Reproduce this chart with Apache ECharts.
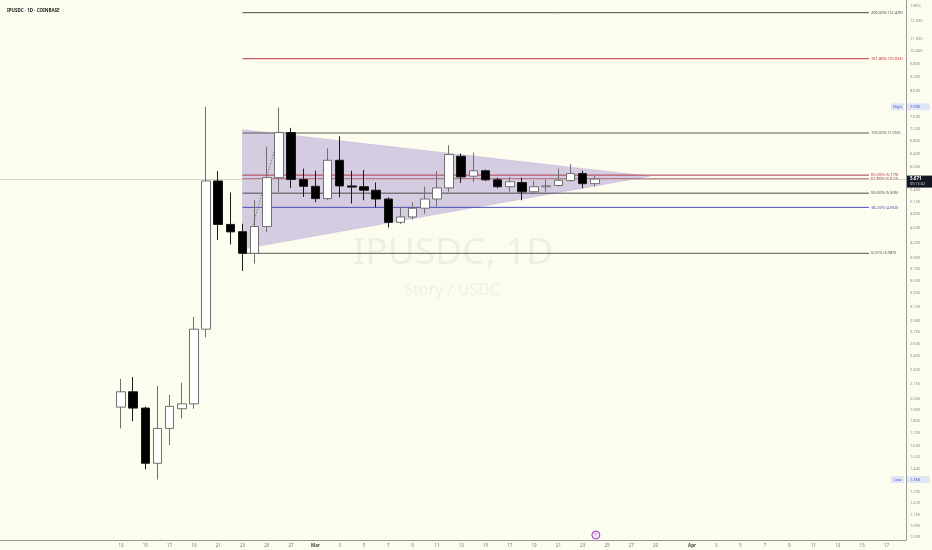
<!DOCTYPE html>
<html><head><meta charset="utf-8">
<script src="https://cdn.jsdelivr.net/npm/echarts@6/dist/echarts.min.js"></script>
<style>html,body{margin:0;padding:0;background:#fdfdef}#c{width:932px;height:550px}</style>
</head><body><div id="c"></div>
<script>
// ---------- data ----------
const dates = ['2025-02-13','2025-02-14','2025-02-15','2025-02-16','2025-02-17','2025-02-18','2025-02-19','2025-02-20','2025-02-21','2025-02-22',
  '2025-02-23','2025-02-24','2025-02-25','2025-02-26','2025-02-27','2025-02-28','2025-03-01','2025-03-02','2025-03-03','2025-03-04',
  '2025-03-05','2025-03-06','2025-03-07','2025-03-08','2025-03-09','2025-03-10','2025-03-11','2025-03-12','2025-03-13','2025-03-14',
  '2025-03-15','2025-03-16','2025-03-17','2025-03-18','2025-03-19','2025-03-20','2025-03-21','2025-03-22','2025-03-23','2025-03-24'];
const opens  = [1.925,2.07,1.916,1.475,1.74,1.91,1.955,2.785,5.62,4.575, 4.42,3.99,4.53,5.71,7.07,5.66,5.48,5.17,6.20,5.49, 5.47,5.38,5.16,4.62,4.74,4.94,5.16,5.44,6.32,5.75, 5.90,5.65,5.47,5.58,5.34,5.47,5.50,5.63,5.82,5.55];
const closes = [2.07,1.916,1.475,1.74,1.932,1.955,2.785,5.62,4.575,4.416, 3.99,4.53,5.71,7.07,5.66,5.48,5.17,6.20,5.49,5.46, 5.38,5.16,4.62,4.74,4.94,5.16,5.44,6.37,5.73,5.90, 5.65,5.47,5.60,5.34,5.47,5.49,5.64,5.82,5.55,5.671];
const lows   = [1.74,1.80,1.433,1.366,1.608,1.824,1.91,2.68,4.25,4.16, 3.67,3.80,4.416,5.34,5.44,5.21,5.08,5.13,5.20,5.05, 5.13,4.96,4.51,4.58,4.68,4.81,4.98,5.34,5.57,5.59, 5.62,5.43,5.34,5.13,5.29,5.34,5.47,5.60,5.43,5.47];
const highs  = [2.20,2.22,1.93,2.127,2.04,2.16,2.95,7.99,5.89,5.32, 4.59,5.13,6.61,7.96,7.23,5.96,5.90,6.56,6.95,5.90, 5.92,5.58,5.20,4.97,5.08,5.47,5.89,6.66,6.40,6.43, 5.93,5.71,5.73,5.71,5.63,5.66,5.96,6.09,5.90,5.76];

const xTickDates = ['2025-02-13','2025-02-15','2025-02-17','2025-02-19','2025-02-21','2025-02-23','2025-02-25','2025-02-27',
  '2025-03-01','2025-03-03','2025-03-05','2025-03-07','2025-03-09','2025-03-11','2025-03-13','2025-03-15','2025-03-17','2025-03-19',
  '2025-03-21','2025-03-23','2025-03-25','2025-03-27','2025-03-29','2025-04-01','2025-04-03','2025-04-05','2025-04-07','2025-04-09',
  '2025-04-11','2025-04-13','2025-04-15','2025-04-17'];
const xTickLabels = ['13','15','17','19','21','23','25','27','Mar','3','5','7','9','11','13','15','17','19',
  '21','23','25','27','29','Apr','3','5','7','9','11','13','15','17'];
const yTickValues = [12,11,10.4,9.8,9.2,8.6,7.6,7.2,6.8,6.4,6.0,5.4,5.1,4.8,4.5,4.2,3.9,3.7,3.5,3.3,3.1,2.9,2.75,2.6,2.45,2.3,2.15,
  2.0,1.9,1.8,1.7,1.6,1.52,1.44,1.29,1.22,1.155,1.095,1.039];

const fibPercents = ['200.00%','161.80%','100.00%','65.00%','61.80%','50.00%','38.20%','0.00%'];
const fibPrices   = [12.476,10.033,7.055,5.779,5.674,5.305,4.960,3.989];
const fibStart = '2025-02-23';
const fibEnd = '2025-04-15 13:30';

const triangleDates  = ['2025-02-23','2025-03-28 13:00','2025-02-23'];
const trianglePrices = [7.17,5.75,4.07];

const dottedDates  = ['2025-02-23 19:00','2025-02-25 18:00'];
const dottedPrices = [4.50,6.66];

const lastPrice = 5.671;
const highPrice = 7.990;
const lowPrice = 1.366;
const eventDate = '2025-03-24';

// ---------- styles ----------
const fibColors = ['#4a4a4a','#c0343d','#5a5a5a','#b03a48','#a0304e','#4a4a4a','#4c4cc0','#5a5a5a'];
const FONT = 'Noto Sans';
const DAY = 86400000;
function pd(s){
  const m = s.match(/^(\d+)-(\d+)-(\d+)(?: (\d+):(\d+))?$/);
  return new Date(+m[1], +m[2]-1, +m[3], m[4]?+m[4]:0, m[5]?+m[5]:0).getTime();
}
const t0 = pd('2025-02-13');

const chart = echarts.init(document.getElementById('c'), null, {renderer:'canvas'});

const series = [];
series.push({
  type:'custom', name:'triangle', z:1, silent:true,
  data: triangleDates.map((d,i)=>[pd(d), trianglePrices[i]]),
  encode:{x:0,y:1},
  renderItem:function(params, api){
    if (params.dataIndex !== 0) return null;
    const pts = triangleDates.map((d,i)=>api.coord([pd(d), trianglePrices[i]]));
    return {type:'polygon', shape:{points:pts}, style:{fill:'rgba(135,105,200,0.33)', stroke:'rgba(135,105,200,0.35)', lineWidth:0.5}};
  }
});
fibPrices.forEach((p,i)=>{
  series.push({
    type:'line', z:3, symbol:'none', silent:true,
    data:[[pd(fibStart),p],[pd(fibEnd),p]],
    lineStyle:{color:fibColors[i], width:1},
    endLabel:{show:true, distance:2, formatter: fibPercents[i]+' ('+p.toFixed(3)+')', color:fibColors[i], fontSize:4, fontFamily:FONT}
  });
});
series.push({
  type:'line', z:4, symbol:'none', silent:true,
  data: dottedDates.map((d,i)=>[pd(d), dottedPrices[i]]),
  lineStyle:{color:'#777', width:1, type:[1.5,1.5]}
});
series.push({
  type:'candlestick', z:5, barWidth:9,
  data: dates.map((d,i)=>[pd(d), opens[i], closes[i], lows[i], highs[i]]),
  encode:{x:0, y:[1,2,3,4]},
  itemStyle:{color:'#ffffff', color0:'#000000', borderColor:'#6f6f6f', borderColor0:'#1a1a1a', borderWidth:1},
  markLine:{
    symbol:['none','none'], silent:true,
    label:{show:false},
    lineStyle:{color:'#c9c9bf', width:0.8, type:'solid'},
    data:[{yAxis:lastPrice}]
  }
});

const option = {
  backgroundColor:'#fdfdef',
  animation:false,
  title:{text:'IPUSDC · 1D · COINBASE', left:2, top:3, textStyle:{fontSize:4.5, fontWeight:'bold', color:'#222', fontFamily:FONT}},
  grid:{left:0, right:26, top:0, bottom:10, containLabel:false},
  xAxis:{
    type:'time',
    min: t0 - 9.96*DAY, max: t0 + 64.61*DAY,
    axisLine:{show:true, lineStyle:{color:'#9a9a9a', width:1}},
    axisTick:{show:false},
    splitLine:{show:false},
    axisLabel:{show:false}
  },
  yAxis:{
    type:'log', position:'right',
    min:1.0255, max:13.25,
    axisLine:{show:true, lineStyle:{color:'#9a9a9a', width:1}},
    axisTick:{show:false},
    axisLabel:{show:false},
    splitLine:{show:false}
  },
  series: series
};
chart.setOption(option);

const g = [];
g.push({type:'text', z:-10, x:453, y:253, style:{text:'IPUSDC, 1D', fontSize:37, fontFamily:FONT, fill:'rgba(0,0,0,0.055)', align:'center', verticalAlign:'middle'}});
g.push({type:'text', z:-10, x:452, y:290, style:{text:'Story / USDC', fontSize:16, fontFamily:FONT, fill:'rgba(0,0,0,0.055)', align:'center', verticalAlign:'middle'}});
g.push({type:'text', z:50, x:911, y:6, style:{text:'USDC', fontSize:4, fontFamily:FONT, fill:'#8a8a8a', align:'left', verticalAlign:'middle'}});
yTickValues.forEach(v=>{
  const y = chart.convertToPixel({yAxisIndex:0}, v);
  g.push({type:'text', z:50, x:910, y:y, style:{text:v.toFixed(3), fontSize:4, fontFamily:FONT, fill:'#8a8a8a', align:'left', verticalAlign:'middle'}});
});
xTickDates.forEach((d,i)=>{
  const x = chart.convertToPixel({xAxisIndex:0}, pd(d));
  const bold = isNaN(+xTickLabels[i]);
  g.push({type:'text', z:50, x:x, y:545.5, style:{text:xTickLabels[i], fontSize:4.5, fontWeight: bold?'bold':'normal', fontFamily:FONT, fill: bold?'#444':'#777', align:'center', verticalAlign:'middle'}});
});
function badge(label, value){
  const y = chart.convertToPixel({yAxisIndex:0}, value);
  g.push({type:'rect', z:60, shape:{x:891, y:y-3.5, width:13, height:7}, style:{fill:'#e1e6f6'}});
  g.push({type:'text', z:61, x:897.5, y:y, style:{text:label, fontSize:4, fontFamily:FONT, fill:'#3d5ccc', align:'center', verticalAlign:'middle'}});
  g.push({type:'rect', z:60, shape:{x:907, y:y-3.5, width:23, height:7}, style:{fill:'#e1e6f6'}});
  g.push({type:'text', z:61, x:910, y:y, style:{text:value.toFixed(3), fontSize:4, fontFamily:FONT, fill:'#3d5ccc', align:'left', verticalAlign:'middle'}});
}
badge('High', highPrice);
badge('Low', lowPrice);
{
  const y = chart.convertToPixel({yAxisIndex:0}, lastPrice);
  g.push({type:'rect', z:60, shape:{x:907, y:y-3.5, width:25, height:12}, style:{fill:'#131722'}});
  g.push({type:'text', z:61, x:910, y:y-0.5, style:{text:lastPrice.toFixed(3), fontSize:4.5, fontWeight:'bold', fontFamily:FONT, fill:'#ffffff', align:'left', verticalAlign:'middle'}});
  g.push({type:'text', z:61, x:910, y:y+5, style:{text:'09:13:02', fontSize:3.8, fontFamily:FONT, fill:'#d0d0d0', align:'left', verticalAlign:'middle'}});
}
{
  const x = chart.convertToPixel({xAxisIndex:0}, pd(eventDate));
  g.push({type:'circle', z:60, shape:{cx:x+1, cy:535, r:4}, style:{fill:'#f3eaf7', stroke:'#9c3bb8', lineWidth:1}});
  g.push({type:'text', z:61, x:x+1, y:535, style:{text:'✎', fontSize:4, fill:'#9c3bb8', align:'center', verticalAlign:'middle'}});
}
chart.setOption({graphic:{elements:g}});
</script></body></html>
